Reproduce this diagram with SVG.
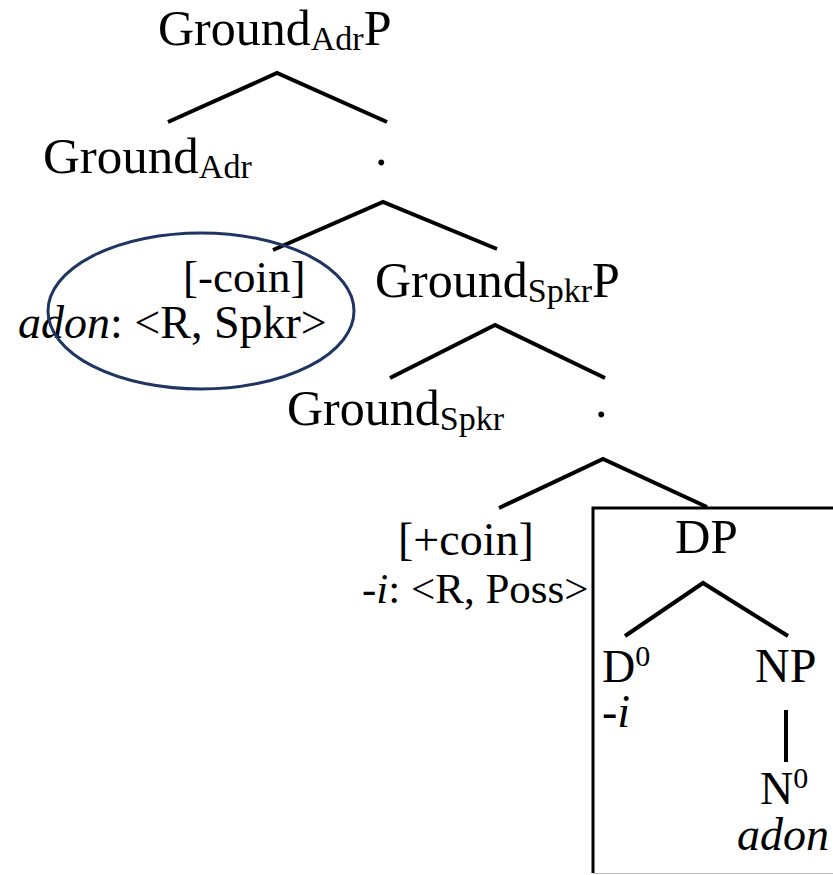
<svg xmlns="http://www.w3.org/2000/svg" width="833" height="875" viewBox="0 0 833 875">
<style>
text{font-family:"Liberation Serif","Times New Roman",serif;font-size:50px;fill:#000}
.f{font-size:46px}
.sub{font-size:34px}
.sup{font-size:30px}
.it{font-style:italic}
.br{stroke:#000;stroke-width:4;fill:none;stroke-linecap:butt;stroke-linejoin:miter}
</style>
<rect width="833" height="875" fill="#fff"/>
<g id="connectors">
<polyline class="br" points="168,122 277,73 387,122"/>
<polyline class="br" points="273,250 383,202 497,249"/>
<polyline class="br" points="390,378 495,325 605,378"/>
<polyline class="br" points="499,508 603,459 707,507"/>
<polyline class="br" points="625,636 703,583 788,636"/>
<line class="br" x1="786" y1="710" x2="786" y2="762"/>
</g>
<g id="n-groundadrp"><text x="158" y="45">Ground<tspan class="sub" dy="5">Adr</tspan><tspan dy="-5">P</tspan></text></g>
<g id="n-groundadr"><text x="43" y="173" style="font-size:51px">Ground<tspan class="sub" dy="5">Adr</tspan></text></g>
<g id="n-bar1"><text x="375" y="165">.</text></g>
<g id="n-coin-minus"><text class="f" x="183" y="292" style="font-size:45px">[-coin]</text><text class="f" x="18" y="338"><tspan class="it">adon</tspan>: &lt;R, Spkr&gt;</text></g>
<g id="n-ellipse"><ellipse cx="201" cy="311" rx="153" ry="78" fill="none" stroke="#1f3562" stroke-width="3"/></g>
<g id="n-groundspkrp"><text x="375" y="297">Ground<tspan class="sub" dy="5">Spkr</tspan><tspan dy="-5">P</tspan></text></g>
<g id="n-groundspkr"><text x="287" y="425">Ground<tspan class="sub" dy="5">Spkr</tspan></text></g>
<g id="n-bar2"><text x="595" y="417">.</text></g>
<g id="n-coin-plus"><text class="f" x="398" y="555">[+coin]</text><text x="362" y="603" style="font-size:43px">-<tspan class="it">i</tspan>: &lt;R, Poss&gt;</text></g>
<g id="n-dp-box"><path d="M593,873 V508 H840" fill="none" stroke="#000" stroke-width="3"/><line x1="593" y1="873.5" x2="833" y2="873.5" stroke="#bbb" stroke-width="1"/></g>
<g id="n-dp"><text x="675" y="553" style="font-size:49px">DP</text></g>
<g id="n-d0"><text class="f" x="602" y="682">D<tspan class="sup" dy="-16">0</tspan></text><text class="f" x="602" y="727">-<tspan class="it">i</tspan></text></g>
<g id="n-np"><text x="755" y="682" style="font-size:48px">NP</text></g>
<g id="n-n0"><text class="f" x="760" y="804">N<tspan class="sup" dy="-16">0</tspan></text><text x="737" y="850" class="f it">adon</text></g>
</svg>
